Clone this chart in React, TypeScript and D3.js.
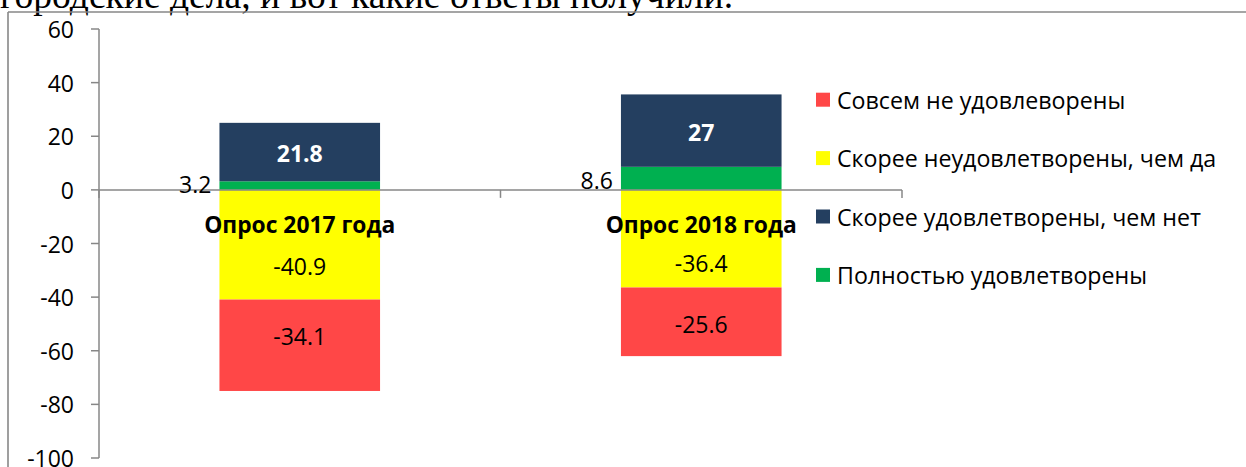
import React from "react";
import * as d3 from "d3";

const categories = ["Опрос 2017 года", "Опрос 2018 года"];
const seriesNames = [
  "Совсем не удовлеворены",
  "Скорее неудовлетворены, чем да",
  "Скорее удовлетворены, чем нет",
  "Полностью удовлетворены",
];
const sovsemNe = [-34.1, -25.6];
const skoreeNeud = [-40.9, -36.4];
const skoreeUd = [21.8, 27];
const polnostyu = [3.2, 8.6];
const yTicks = [60, 40, 20, 0, -20, -40, -60, -80, -100];

const colors: Record<string, string> = {
  [seriesNames[0]]: "#FF4747",
  [seriesNames[1]]: "#FFFF00",
  [seriesNames[2]]: "#243F60",
  [seriesNames[3]]: "#00B050",
};
// manual label nudges (px) as in the original
const labelNudge: Record<string, number[]> = {
  [seriesNames[0]]: [-9, 2],
  [seriesNames[1]]: [21, 24],
  [seriesNames[2]]: [1, 1],
  [seriesNames[3]]: [-2, 2],
};

const W = 1246;
const H = 467;
const FONT = "'Open Sans', 'Noto Sans', sans-serif";

export default function App() {
  const rows = categories.map((c, i) => ({
    cat: c,
    [seriesNames[3]]: polnostyu[i],
    [seriesNames[2]]: skoreeUd[i],
    [seriesNames[1]]: skoreeNeud[i],
    [seriesNames[0]]: sovsemNe[i],
  }));
  const stackKeys = [seriesNames[3], seriesNames[2], seriesNames[1], seriesNames[0]];
  const stacked = d3
    .stack<any>()
    .keys(stackKeys)
    .offset(d3.stackOffsetDiverging)(rows);

  const y = d3.scaleLinear().domain([-100, 60]).range([458, 29]);
  const x = d3
    .scaleBand<string>()
    .domain(categories)
    .range([99, 902])
    .paddingInner(0.6)
    .paddingOuter(0.3);
  const step = x.step();
  const axisX0 = 99;
  const axisX1 = 902;
  const y0 = y(0);
  const axisColor = "#878787";

  return (
    <svg
      width={W}
      height={H}
      style={{ position: "absolute", left: 0, top: 0, background: "#fff" }}
    >
      <text
        x={0}
        y={8}
        fontFamily="'Liberation Serif', 'Times New Roman', serif"
        fontSize={37.6}
        fill="#000"
      >
        городские дела, и вот какие ответы получили.
      </text>
      {/* frame */}
      <line x1={8} x2={8} y1={12} y2={H} stroke={axisColor} strokeWidth={1.6} />
      <line x1={8} x2={W} y1={12} y2={12} stroke={axisColor} strokeWidth={1.6} />

      {/* bars */}
      {stacked.map((s) =>
        s.map((d, i) => {
          const cat = categories[i];
          const top = y(Math.max(d[0], d[1]));
          const bot = y(Math.min(d[0], d[1]));
          return (
            <rect
              key={s.key + i}
              x={x(cat)}
              y={top}
              width={x.bandwidth()}
              height={bot - top}
              fill={colors[s.key]}
            />
          );
        })
      )}

      {/* y axis */}
      <line x1={axisX0} x2={axisX0} y1={y(60)} y2={y(-100)} stroke={axisColor} strokeWidth={1.5} />
      {yTicks.map((t) => (
        <g key={t}>
          <line x1={axisX0 - 8} x2={axisX0} y1={y(t)} y2={y(t)} stroke={axisColor} strokeWidth={1.5} />
          <text
            x={74}
            y={y(t)}
            textAnchor="end"
            dominantBaseline="central"
            fontFamily={FONT}
            fontSize={23}
            fill="#000"
          >
            {t}
          </text>
        </g>
      ))}

      {/* x axis */}
      <line x1={axisX0} x2={axisX1} y1={y0} y2={y0} stroke={axisColor} strokeWidth={1.5} />
      {[0, 1, 2].map((k) => (
        <line
          key={k}
          x1={axisX0 + k * step}
          x2={axisX0 + k * step}
          y1={y0}
          y2={y0 + 8}
          stroke={axisColor}
          strokeWidth={1.5}
        />
      ))}

      {/* labels */}
      {stacked.map((s) =>
        s.map((d, i) => {
          const cat = categories[i];
          const cy = (y(d[0]) + y(d[1])) / 2 + labelNudge[s.key][i];
          const v = rows[i][s.key] as number;
          const isGreen = s.key === seriesNames[3];
          const isNavy = s.key === seriesNames[2];
          return (
            <text
              key={"l" + s.key + i}
              x={isGreen ? (x(cat) as number) - 8 : (x(cat) as number) + x.bandwidth() / 2}
              y={cy}
              textAnchor={isGreen ? "end" : "middle"}
              dominantBaseline="central"
              fontFamily={FONT}
              fontSize={23}
              fontWeight={isNavy ? 700 : 400}
              fill={isNavy ? "#fff" : "#000"}
            >
              {String(v)}
            </text>
          );
        })
      )}

      {/* category labels */}
      {categories.map((c) => (
        <text
          key={c}
          x={(x(c) as number) + x.bandwidth() / 2}
          y={224}
          textAnchor="middle"
          dominantBaseline="central"
          fontFamily={FONT}
          fontSize={22.8}
          fontWeight={700}
          fill="#000"
        >
          {c}
        </text>
      ))}

      {/* legend */}
      {seriesNames.map((n, i) => {
        const cy = 99.7 + i * 58.4;
        return (
          <g key={n}>
            <rect x={816} y={cy - 7} width={14} height={14} fill={colors[n]} />
            <text
              x={837}
              y={cy}
              dominantBaseline="central"
              fontFamily={FONT}
              fontSize={23.2}
              fill="#000"
            >
              {n}
            </text>
          </g>
        );
      })}
    </svg>
  );
}
